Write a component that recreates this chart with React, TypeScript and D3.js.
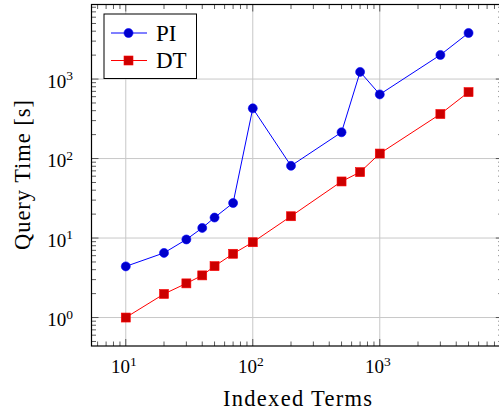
import * as d3 from "d3";

const terms = [10, 20, 30, 40, 50, 70, 100, 200, 500, 700, 1000, 3000, 5000];
const piTimes = [4.4, 6.5, 9.6, 13.4, 18.1, 27.6, 428, 81, 214, 1230, 641, 2010, 3800];
const dtTimes = [1.0, 1.98, 2.69, 3.39, 4.43, 6.34, 8.86, 18.8, 51.5, 67.5, 115.6, 363, 685];
const seriesNames = ["PI", "DT"];
const xMajor = [10, 100, 1000];
const yMajor = [1, 10, 100, 1000];

const width = 499;
const height = 414;
const left = 91.5;
const top = 4.5;
const bottom = 346;
const font = "'Liberation Serif', 'Times New Roman', serif";

function enlarge(lo: number, hi: number) {
    const a = Math.log10(lo);
    const b = Math.log10(hi);
    const pad = (b - a) * 0.1;
    return [Math.pow(10, a - pad), Math.pow(10, b + pad)];
}

function minorTicks(dom: number[]) {
    const out: number[] = [];
    for (let e = -2; e < 6; e++) {
        for (let k = 2; k < 10; k++) {
            const v = k * Math.pow(10, e);
            if (v > dom[0] && v < dom[1]) out.push(v);
        }
    }
    return out;
}

export default function App() {
    const xDom = enlarge(d3.min(terms)!, d3.max(terms)!);
    const allY = piTimes.concat(dtTimes);
    const yDom = enlarge(d3.min(allY)!, d3.max(allY)!);
    const pxPerDecade = 127;
    const right = left + (Math.log10(xDom[1]) - Math.log10(xDom[0])) * pxPerDecade;

    const x = d3.scaleLog().domain(xDom).range([left, right]);
    const y = d3.scaleLog().domain(yDom).range([bottom, top]);

    const line = d3
        .line<number>()
        .x((_d, i) => x(terms[i]))
        .y((d) => y(d));

    const xMinor = minorTicks(xDom);
    const yMinor = minorTicks(yDom);
    const tickColor = "#333";

    return (
        <svg
            width={width}
            height={height}
            style={{ position: "absolute", left: 0, top: 0, background: "white", overflow: "hidden" }}
            fontFamily={font}
        >
            {/* grid */}
            <g stroke="#c8c8c8" strokeWidth="1">
                {xMajor.map((v) => (
                    <line key={"gx" + v} x1={x(v)} x2={x(v)} y1={top} y2={bottom} />
                ))}
                {yMajor.map((v) => (
                    <line key={"gy" + v} x1={left} x2={right} y1={y(v)} y2={y(v)} />
                ))}
            </g>
            {/* minor ticks */}
            <g stroke={tickColor} strokeWidth="0.8">
                {xMinor.map((v) => (
                    <g key={"mx" + v}>
                        <line x1={x(v)} x2={x(v)} y1={bottom} y2={bottom - 4.5} />
                        <line x1={x(v)} x2={x(v)} y1={top} y2={top + 4.5} />
                    </g>
                ))}
                {yMinor.map((v) => (
                    <g key={"my" + v}>
                        <line x1={left} x2={left + 4.5} y1={y(v)} y2={y(v)} />
                        <line x1={right} x2={right - 4.5} y1={y(v)} y2={y(v)} />
                    </g>
                ))}
                {xMajor.map((v) => (
                    <g key={"Mx" + v}>
                        <line x1={x(v)} x2={x(v)} y1={bottom} y2={bottom - 7} />
                        <line x1={x(v)} x2={x(v)} y1={top} y2={top + 7} />
                    </g>
                ))}
                {yMajor.map((v) => (
                    <g key={"My" + v}>
                        <line x1={left} x2={left + 7} y1={y(v)} y2={y(v)} />
                        <line x1={right} x2={right - 7} y1={y(v)} y2={y(v)} />
                    </g>
                ))}
            </g>
            {/* series */}
            <path d={line(piTimes) || ""} fill="none" stroke="#0000ff" strokeWidth="1" />
            <path d={line(dtTimes) || ""} fill="none" stroke="#ff0000" strokeWidth="1" />
            {piTimes.map((d, i) => (
                <circle key={"p" + i} cx={x(terms[i])} cy={y(d)} r={4.5} fill="#0000cc" stroke="#0000ff" strokeWidth="0.6" />
            ))}
            {dtTimes.map((d, i) => (
                <rect key={"d" + i} x={x(terms[i]) - 4.5} y={y(d) - 4.5} width={9} height={9} fill="#cc0000" stroke="#ff0000" strokeWidth="0.6" />
            ))}
            {/* frame */}
            <rect x={left} y={top} width={right - left} height={bottom - top} fill="none" stroke="#000" strokeWidth="1.2" />
            {/* tick labels */}
            <g fill="#000" fontSize="19">
                {xMajor.map((v) => (
                    <text key={"tx" + v} x={x(v) - 2} y={373} textAnchor="middle">
                        10<tspan fontSize="13.5" dy="-7.5">{Math.round(Math.log10(v))}</tspan>
                    </text>
                ))}
                {yMajor.map((v) => (
                    <text key={"ty" + v} x={73} y={y(v) + 8.5} textAnchor="end">
                        10<tspan fontSize="13.5" dy="-7.5">{Math.round(Math.log10(v))}</tspan>
                    </text>
                ))}
            </g>
            {/* axis labels */}
            <text x={223} y={406} fontSize="22.5" textLength={149} lengthAdjust="spacing">
                Indexed Terms
            </text>
            <text transform={`translate(30,250) rotate(-90)`} fontSize="22.5" textLength={150} lengthAdjust="spacing">
                Query Time [s]
            </text>
            {/* legend */}
            <g>
                <rect x={104} y={14} width={92.5} height={64.5} fill="white" stroke="#000" strokeWidth="1" />
                {seriesNames.map((name, i) => {
                    const cy = 33 + i * 27.5;
                    const color = i === 0 ? "#0000ff" : "#ff0000";
                    const fill = i === 0 ? "#0000cc" : "#cc0000";
                    return (
                        <g key={name}>
                            <line x1={111} x2={147} y1={cy} y2={cy} stroke={color} strokeWidth="1" />
                            {i === 0 ? (
                                <circle cx={128.5} cy={cy} r={4.5} fill={fill} stroke={color} strokeWidth="0.6" />
                            ) : (
                                <rect x={124} y={cy - 4.5} width={9} height={9} fill={fill} stroke={color} strokeWidth="0.6" />
                            )}
                            <text x={156} y={cy + 7.5} fontSize="23">
                                {name}
                            </text>
                        </g>
                    );
                })}
            </g>
        </svg>
    );
}
